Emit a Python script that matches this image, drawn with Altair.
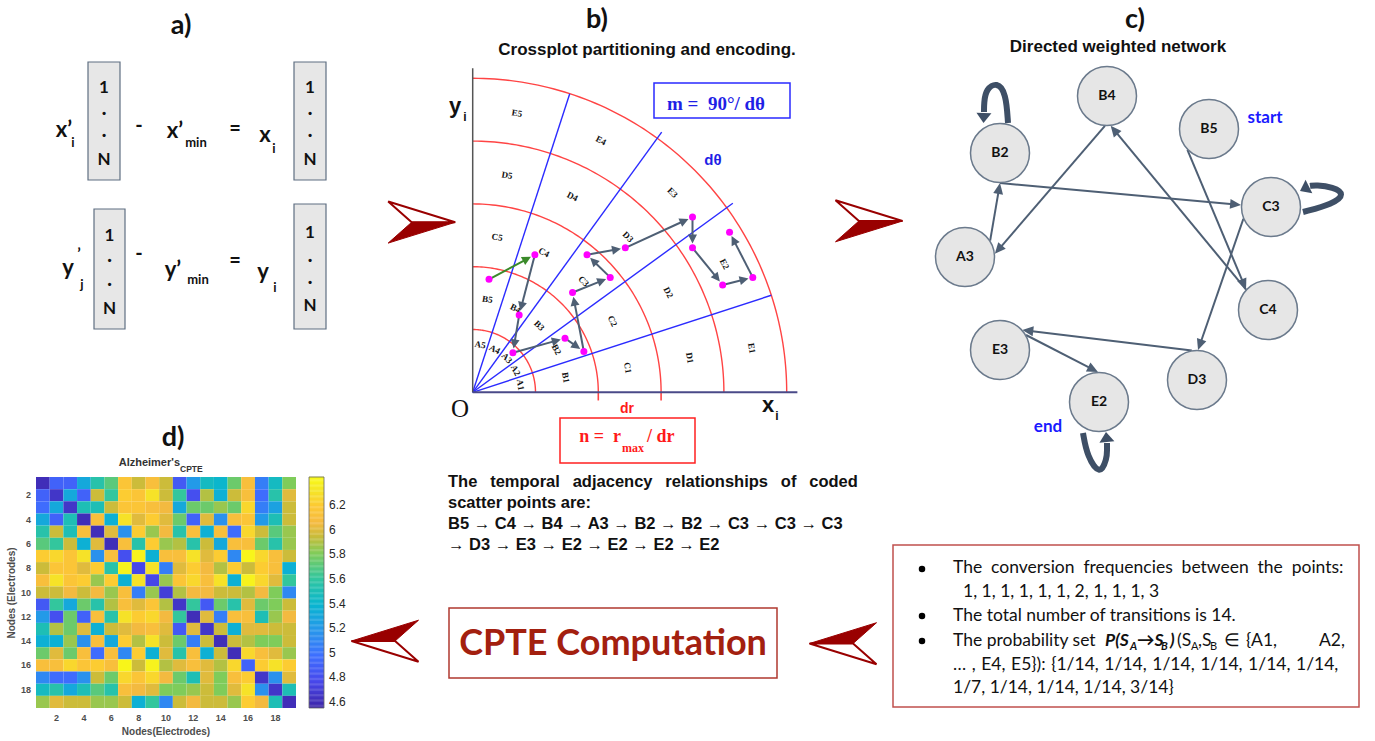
import math
from fractions import Fraction

import numpy as np
import pandas as pd
import altair as alt

W, H = 1375, 741
SANS, SERIF, HUMAN = "Liberation Sans", "Liberation Serif", "Lato"
INK = "#111111"
DARK_RED = "#990000"
SLATE = "#4e5f74"
LOOP = "#3e4f66"
BLUE_TXT = "#1a1aff"
RED_TXT = "#ff1a1a"

# ---------------------------------------------------------------- data
# (b) coded scatter points on the crossplot, in units of dr
SCATTER_X = [0.26, 0.99, 0.74, 0.64, 1.47, 1.77, 1.59, 2.19, 1.82, 2.43, 3.50, 3.50, 3.98, 4.46, 4.09]
SCATTER_Y = [1.80, 2.19, 1.23, 0.63, 0.86, 0.65, 1.59, 1.83, 2.19, 2.30, 2.79, 2.30, 1.71, 1.83, 2.55]
RING_LETTERS = ["A", "B", "C", "D", "E"]
N_SECTORS = 5

# (c) network nodes
NODES = ["B4", "B2", "B5", "C3", "A3", "C4", "E3", "E2", "D3"]

# (d) CPTE matrix, 19 electrodes
CPTE_ROWS = [
    [4.60, 4.90, 4.90, 5.30, 5.55, 5.70, 6.15, 5.95, 6.10, 5.95, 4.85, 5.20, 5.45, 5.40, 5.75, 6.10, 5.05, 5.45, 5.80],
    [4.90, 4.65, 5.30, 4.90, 5.95, 5.60, 6.20, 6.15, 6.30, 5.95, 5.60, 4.80, 5.90, 5.35, 5.95, 6.10, 4.95, 5.55, 6.00],
    [4.95, 5.30, 4.65, 5.50, 5.50, 5.95, 6.15, 6.15, 6.10, 6.05, 5.30, 5.75, 5.75, 5.85, 5.75, 6.25, 5.05, 5.25, 5.95],
    [5.30, 4.90, 5.50, 4.60, 6.10, 5.35, 6.30, 6.00, 6.20, 6.00, 5.75, 4.90, 6.00, 5.15, 6.10, 6.15, 5.20, 5.50, 5.95],
    [5.55, 5.95, 5.50, 6.10, 4.60, 6.00, 5.15, 6.20, 5.85, 6.05, 5.55, 6.10, 5.35, 6.10, 4.95, 6.25, 5.95, 5.70, 5.85],
    [5.70, 5.60, 5.95, 5.35, 6.00, 4.60, 6.10, 5.55, 6.20, 5.85, 5.90, 5.55, 5.95, 5.30, 6.10, 6.10, 5.75, 5.55, 5.85],
    [6.20, 6.25, 6.15, 6.30, 5.15, 6.10, 4.80, 6.38, 5.35, 6.10, 6.10, 6.30, 6.00, 6.20, 5.10, 6.40, 6.25, 6.10, 5.95],
    [5.95, 6.15, 6.15, 6.00, 6.20, 5.55, 6.38, 4.75, 6.30, 5.05, 6.00, 6.20, 6.05, 5.90, 6.20, 5.95, 6.20, 6.10, 5.35],
    [6.10, 6.30, 6.15, 6.20, 5.85, 6.20, 5.35, 6.30, 4.75, 5.85, 6.15, 6.25, 6.10, 6.30, 5.35, 6.38, 6.25, 6.00, 5.60],
    [5.95, 5.95, 6.05, 5.95, 6.05, 5.85, 6.10, 5.05, 5.85, 4.70, 5.90, 6.05, 6.05, 5.95, 5.95, 5.90, 6.05, 5.80, 5.10],
    [4.85, 5.60, 5.30, 5.75, 5.55, 5.90, 6.10, 6.00, 6.15, 5.90, 4.65, 5.60, 4.85, 5.75, 5.55, 6.00, 5.75, 5.80, 5.95],
    [5.20, 4.80, 5.75, 4.90, 6.10, 5.55, 6.30, 6.20, 6.25, 6.05, 5.60, 4.60, 6.00, 5.05, 6.10, 6.10, 5.50, 5.85, 6.05],
    [5.50, 5.90, 5.75, 6.00, 5.35, 5.95, 6.00, 6.05, 6.10, 6.00, 4.85, 6.00, 4.65, 5.95, 5.35, 6.00, 6.00, 5.95, 5.95],
    [5.35, 5.35, 5.85, 5.15, 6.10, 5.30, 6.20, 5.90, 6.30, 5.95, 5.75, 5.05, 5.95, 4.60, 5.95, 5.90, 5.80, 5.80, 5.95],
    [5.75, 6.00, 5.75, 6.10, 4.95, 6.10, 5.10, 6.20, 5.35, 6.00, 5.55, 6.10, 5.35, 5.95, 4.60, 6.25, 6.10, 6.00, 5.85],
    [6.10, 6.10, 6.25, 6.15, 6.20, 6.10, 6.40, 5.95, 6.38, 5.90, 6.00, 6.10, 6.00, 5.90, 6.25, 4.90, 6.20, 6.30, 6.20],
    [5.10, 4.95, 4.95, 5.15, 5.95, 5.75, 6.25, 6.15, 6.25, 6.05, 5.75, 5.50, 6.00, 5.80, 6.10, 6.20, 4.65, 5.15, 6.00],
    [5.45, 5.55, 5.30, 5.50, 5.70, 5.55, 6.10, 6.05, 6.00, 5.80, 5.80, 5.85, 5.95, 5.80, 6.00, 6.30, 5.15, 4.65, 5.50],
    [5.85, 6.00, 5.95, 5.95, 5.85, 5.85, 5.95, 5.35, 5.60, 5.10, 5.95, 6.05, 5.95, 5.95, 5.85, 6.20, 6.05, 5.50, 4.60],
]
NODE_TICKS = [2, 4, 6, 8, 10, 12, 14, 16, 18]
CBAR_TICKS = [4.6, 4.8, 5.0, 5.2, 5.4, 5.6, 5.8, 6.0, 6.2]
CBAR_LIMITS = [4.55, 6.43]

# parula-like colour ramp
PARULA_STOPS = [0.0, 0.111, 0.222, 0.333, 0.444, 0.556, 0.667, 0.74, 0.80, 0.87, 0.94, 1.0]
PARULA_COLORS = ["#3e26a8", "#4747eb", "#3e6fff", "#2796eb", "#08b5d0", "#31c69f",
                 "#81cc59", "#c9bc3a", "#f5ba40", "#fdc934", "#f5e626", "#f9fb15"]


# ---------------------------------------------------------------- derived
def encode_point(x, y):
    r = math.hypot(x, y)
    th = math.degrees(math.atan2(y, x))
    ring = min(int(r), len(RING_LETTERS) - 1)
    sec = min(int(th // (90 / N_SECTORS)), N_SECTORS - 1) + 1
    return f"{RING_LETTERS[ring]}{sec}"


CODES = [encode_point(x, y) for x, y in zip(SCATTER_X, SCATTER_Y)]
TRANSITIONS = {}
for pair in zip(CODES[:-1], CODES[1:]):
    TRANSITIONS[pair] = TRANSITIONS.get(pair, 0) + 1
TOTAL = sum(TRANSITIONS.values())
FREQS = list(TRANSITIONS.values())
PROBS = [str(Fraction(c, TOTAL)) for c in FREQS]


# ---------------------------------------------------------------- helpers
def pxs():
    return alt.Scale(domain=[0, W], range=[0, W], nice=False, zero=False)


def pys():
    return alt.Scale(domain=[0, H], range=[0, H], nice=False, zero=False)


def pxy(xf="x", yf="y"):
    return dict(x=alt.X(f"{xf}:Q", scale=pxs(), axis=None),
                y=alt.Y(f"{yf}:Q", scale=pys(), axis=None))


def texts(rows, size, color=INK, font=SANS, weight="bold", align="center",
          baseline="middle", italic=False, angle=None):
    df = pd.DataFrame(rows, columns=["t", "x", "y"])
    mk = dict(fontSize=size, color=color, font=font, fontWeight=weight,
              align=align, baseline=baseline)
    if italic:
        mk["fontStyle"] = "italic"
    if angle is not None:
        mk["angle"] = angle
    return alt.Chart(df).mark_text(**mk).encode(**pxy(), text="t:N")


def rects(rows, fill, stroke, sw, fill_opacity=1.0):
    df = pd.DataFrame(rows, columns=["x0", "x1", "y0", "y1"])
    return alt.Chart(df).mark_rect(fill=fill, stroke=stroke, strokeWidth=sw,
                                   fillOpacity=fill_opacity).encode(
        **pxy("x0", "y0"), x2="x1:Q", y2="y1:Q")


def segs(rows, color, width, scale_x=None, scale_y=None, cap="butt"):
    df = pd.DataFrame(rows, columns=["x", "y", "x2", "y2"])
    sx = scale_x or pxs()
    sy = scale_y or pys()
    return alt.Chart(df).mark_rule(color=color, strokeWidth=width, strokeCap=cap).encode(
        x=alt.X("x:Q", scale=sx, axis=None), y=alt.Y("y:Q", scale=sy, axis=None),
        x2="x2:Q", y2="y2:Q")


HEAD = "M0,0 L-0.5,1 L0.5,1 Z"
HEAD_WIDE = "M0,0 L-0.75,1 L0.75,1 Z"


def heads(rows, color, length, shape=HEAD, scale_x=None, scale_y=None):
    df = pd.DataFrame(rows, columns=["x", "y", "a"])
    sx = scale_x or pxs()
    sy = scale_y or pys()
    return alt.Chart(df).mark_point(shape=shape, filled=True, color=color, opacity=1,
                                    size=(2 * length) ** 2, strokeWidth=0).encode(
        x=alt.X("x:Q", scale=sx, axis=None), y=alt.Y("y:Q", scale=sy, axis=None),
        angle=alt.Angle("a:Q", scale=None))


def screen_angle(dx, dy_screen):
    return math.degrees(math.atan2(dx, -dy_screen)) % 360


layers = []

# ================================================================ (a)
VECTOR_ENTRIES = ["1", "·", "·", "N"]
A_BOXES = [(88, 120, 62, 180), (294, 326, 62, 180), (94, 125, 209, 329), (294, 326, 204, 329)]
A_ENTRY_Y = [[88, 114, 136, 160], [88, 114, 136, 160], [236, 261, 285, 309], [233, 261, 283, 306]]
layers.append(rects(A_BOXES, "#e7e7e7", "#5f6f82", 1.2))
entries = []
for (l, r, t, b), ys in zip(A_BOXES, A_ENTRY_Y):
    for txt, yy in zip(VECTOR_ENTRIES, ys):
        entries.append((txt, (l + r) / 2, yy))
layers.append(texts(entries, 17, font=HUMAN))
layers.append(texts([("x’", 64, 130), ("x’", 175, 131), ("x", 265, 135),
                     ("y", 68, 268), ("y’", 173, 270), ("y", 263, 272)], 22, font=HUMAN))
layers.append(texts([("i", 73, 143), ("min", 196, 143), ("i", 274, 149),
                     ("j", 82, 285), ("min", 198, 280), ("i", 275, 288)], 13, font=HUMAN))
layers.append(texts([("’", 79, 254)], 16, font=HUMAN))
layers.append(texts([("-", 139, 126), ("=", 235, 129), ("-", 139, 254), ("=", 235, 261)], 20, font=HUMAN))
layers.append(texts([("a)", 181, 26), ("b)", 597, 20), ("c)", 1135, 20), ("d)", 173, 438)], 27, font=HUMAN))

# ================================================================ chevrons between panels
CHEV_OPEN = "M1,0 L-1,-0.62 L-0.3,0 Z"
CHEV_FILL = "M1,0 L-0.3,0 L-1,0.62 Z"
chev = pd.DataFrame([(421.7, 222.3, 0), (869.0, 221.0, 0), (385.0, 641.0, 180), (843.0, 643.5, 180)],
                    columns=["x", "y", "a"])
layers.append(alt.Chart(chev).mark_point(shape=CHEV_OPEN, filled=True, fill="white", stroke=DARK_RED,
                                         strokeWidth=2, opacity=1, size=67 ** 2).encode(
    **pxy(), angle=alt.Angle("a:Q", scale=None)))
layers.append(alt.Chart(chev).mark_point(shape=CHEV_FILL, filled=True, fill=DARK_RED, stroke=DARK_RED,
                                         strokeWidth=1, opacity=1, size=67 ** 2).encode(
    **pxy(), angle=alt.Angle("a:Q", scale=None)))

# ================================================================ (b) crossplot
ORIGIN = (472.7, 392.3)
DR_PX = 62.8
CPX = alt.Scale(domain=[0, 5], range=[ORIGIN[0], ORIGIN[0] + 5 * DR_PX], nice=False, zero=False)
CPY = alt.Scale(domain=[0, 5], range=[ORIGIN[1], ORIGIN[1] - 5 * DR_PX], nice=False, zero=False)


def cpxy(xf="x", yf="y"):
    return dict(x=alt.X(f"{xf}:Q", scale=CPX, axis=None), y=alt.Y(f"{yf}:Q", scale=CPY, axis=None))


layers.append(texts([("Crossplot partitioning and encoding.", 647, 50)], 17))
layers.append(rects([(654, 790, 83, 118)], "white", "#2a2aff", 1.5))
layers.append(texts([("m =\u00a0 90°/ dθ", 716, 104)], 19, color="#1f1fe6", font=SERIF))
layers.append(texts([("dθ", 713, 160)], 15, color="#1f1fe6"))

# arcs of constant radius
arc_rows = []
for k in range(1, 6):
    for i, deg in enumerate(range(0, 91)):
        t = math.radians(deg)
        arc_rows.append((k, i, k * math.cos(t), k * math.sin(t)))
arcs = pd.DataFrame(arc_rows, columns=["k", "i", "x", "y"])
layers.append(alt.Chart(arcs).mark_line(color="#ff4444", strokeWidth=1.4).encode(
    **cpxy(), detail="k:N", order="i:Q"))
layers.append(segs([(k, 0, k, -0.13) for k in (2, 3)], "#ff4444", 1.6, CPX, CPY))

# sector boundaries
ray_rows = []
for s in range(1, N_SECTORS):
    t = math.radians(s * 90 / N_SECTORS)
    length = 5.0 if s in (1, N_SECTORS - 1) else 5.12
    ray_rows.append((0, 0, length * math.cos(t), length * math.sin(t)))
layers.append(segs(ray_rows, "#2b2bff", 1.4, CPX, CPY))

# axes
layers.append(segs([(0, 0, 0, 5.16)], "#555555", 1.5, CPX, CPY))
layers.append(segs([(0, 0, 5.17, 0)], "#4a4a88", 2.0, CPX, CPY))

# sector codes
lab_rows = []
for ri, letter in enumerate(RING_LETTERS):
    rmid = 0.77 if ri == 0 else ri + 0.5
    for s in range(N_SECTORS):
        th = (s + 0.5) * 90 / N_SECTORS
        t = math.radians(th)
        lab_rows.append((f"{letter}{s + 1}", rmid * math.cos(t), rmid * math.sin(t), 90 - th))
labs = pd.DataFrame(lab_rows, columns=["t", "x", "y", "a"])
layers.append(alt.Chart(labs).mark_text(font=SERIF, fontSize=9, fontWeight="bold", color=INK,
                                        baseline="middle").encode(
    **cpxy(), text="t:N", angle=alt.Angle("a:Q", scale=None)))

# temporal trajectory
seg_rows, head_rows = [], []
for i in range(len(SCATTER_X) - 1):
    x0, y0, x1, y1 = SCATTER_X[i], SCATTER_Y[i], SCATTER_X[i + 1], SCATTER_Y[i + 1]
    L = math.hypot(x1 - x0, y1 - y0)
    ux, uy = (x1 - x0) / L, (y1 - y0) / L
    tx, ty = x1 - 0.07 * ux, y1 - 0.07 * uy
    ex, ey = tx - 0.1 * ux, ty - 0.1 * uy
    seg_rows.append((i, x0, y0, ex, ey))
    head_rows.append((i, tx, ty, screen_angle(ux, -uy)))
first = [r[1:] for r in seg_rows if r[0] == 0]
rest = [r[1:] for r in seg_rows if r[0] != 0]
layers.append(segs(first, "#3a8a2a", 2.0, CPX, CPY))
layers.append(segs(rest, SLATE, 2.0, CPX, CPY))
layers.append(heads([r[1:] for r in head_rows if r[0] == 0], "#3a8a2a", 9, scale_x=CPX, scale_y=CPY))
layers.append(heads([r[1:] for r in head_rows if r[0] != 0], SLATE, 9, scale_x=CPX, scale_y=CPY))
pts = pd.DataFrame({"x": SCATTER_X, "y": SCATTER_Y})
layers.append(alt.Chart(pts).mark_point(shape="circle", filled=True, color="#ff00ff", opacity=1,
                                        size=49).encode(**cpxy()))

# axis names
layers.append(texts([("y", 455, 106), ("x", 768, 405)], 22))
layers.append(texts([("i", 465, 117), ("i", 777, 416)], 12))
layers.append(texts([("O", 460, 409)], 25, font=SERIF, weight="normal"))
layers.append(texts([("dr", 627, 409)], 14, color=RED_TXT))

# n = r_max / dr
layers.append(rects([(560, 695, 418, 463)], "white", "#ff2020", 1.5))
layers.append(texts([("n =\u00a0 r", 621, 437)], 18, color=RED_TXT, font=SERIF, align="right"))
layers.append(texts([("max", 622, 448)], 12, color=RED_TXT, font=SERIF, align="left"))
layers.append(texts([("/ dr", 647, 437)], 18, color=RED_TXT, font=SERIF, align="left"))

# trajectory as text
GAP = " \u2002"
para = [
    (GAP.join("The temporal adjacency relationships of coded".split()), 448, 482),
    ("scatter points are:", 448, 503),
    (" → ".join(CODES[:9]), 448, 524),
    ("→ " + " → ".join(CODES[9:]), 448, 545),
]
layers.append(texts(para, 16.5, align="left"))

# ================================================================ (c) network
NODE_POS = {"B4": (1107, 96), "B2": (1000, 153), "B5": (1209, 129), "C3": (1271, 207),
            "A3": (965, 257), "C4": (1268, 310), "E3": (1000, 350), "E2": (1099, 402),
            "D3": (1197, 380)}
NODE_R = 29.5
PORTS = {("B5", "C4"): (136, 223), ("C4", "B4"): (223, 83), ("B4", "A3"): (94, 354),
         ("A3", "B2"): (327, 90), ("B2", "C3"): (90, 184), ("C3", "D3"): (157, 272),
         ("D3", "E3"): (260, 318), ("E3", "E2"): (330, 268)}
LOOP_PATHS = {
    "B2": [(8, -30), (6, -60), (-3, -71), (-14, -64), (-16, -50), (-16, -41)],
    "C3": [(32, 5), (62, -3), (74, -13), (62, -20), (45, -22), (39, -21)],
    "E2": [(-16, 31), (-12, 54), (1, 74), (8, 56), (8, 48), (8, 41)],
}
LOOP_TIPS = {"B2": (-16.5, -30), "C3": (29, -16), "E2": (7, 30)}

layers.append(texts([("Directed weighted network", 1118, 47)], 17))


def port(node, ang):
    cx, cy = NODE_POS[node]
    t = math.radians(ang)
    return cx + (NODE_R + 0.5) * math.cos(t), cy + (NODE_R + 0.5) * math.sin(t)


e_rows, eh_rows = [], []
for (a, b), cnt in TRANSITIONS.items():
    if a == b:
        continue
    sx_, sy_ = port(a, PORTS[(a, b)][0])
    tx_, ty_ = port(b, PORTS[(a, b)][1])
    L = math.hypot(tx_ - sx_, ty_ - sy_)
    ux, uy = (tx_ - sx_) / L, (ty_ - sy_) / L
    e_rows.append((sx_, sy_, tx_ - 8 * ux, ty_ - 8 * uy))
    eh_rows.append((tx_, ty_, screen_angle(ux, uy)))
layers.append(segs(e_rows, SLATE, 2.0))
layers.append(heads(eh_rows, SLATE, 11, shape="M0,0 L-0.45,1 L0.45,1 Z"))

loop_rows, lh_rows = [], []
for (a, b), cnt in TRANSITIONS.items():
    if a != b:
        continue
    cx, cy = NODE_POS[a]
    path = LOOP_PATHS[a]
    for i, (dx, dy) in enumerate(path):
        loop_rows.append((a, i, cx + dx, cy + dy))
    bx, by = path[-1]
    tx_, ty_ = LOOP_TIPS[a]
    lh_rows.append((cx + tx_, cy + ty_, screen_angle(tx_ - bx, ty_ - by)))
loops = pd.DataFrame(loop_rows, columns=["n", "i", "x", "y"])
layers.append(alt.Chart(loops).mark_line(color=LOOP, strokeWidth=6, interpolate="basis").encode(
    **pxy(), detail="n:N", order="i:Q"))
layers.append(heads(lh_rows, LOOP, 10, shape=HEAD_WIDE))

nodes = pd.DataFrame([(n, *NODE_POS[n]) for n in NODES], columns=["t", "x", "y"])
layers.append(alt.Chart(nodes).mark_point(shape="circle", filled=True, fill="#e6e6e6", stroke="#6b7a8c",
                                          strokeWidth=1.5, opacity=1, size=(2 * NODE_R) ** 2).encode(**pxy()))
layers.append(alt.Chart(nodes).mark_text(font=HUMAN, fontSize=14, fontWeight="bold", color=INK,
                                         baseline="middle").encode(**pxy(), text="t:N"))
layers.append(texts([("start", 1265, 118), ("end", 1048, 427)], 17, color=BLUE_TXT, font=HUMAN))

# ================================================================ summary box
layers.append(rects([(893, 1359, 545, 707)], "white", "#c0504d", 1.5))
bul = pd.DataFrame({"x": [922, 922, 922], "y": [569, 616, 641]})
layers.append(alt.Chart(bul).mark_point(shape="circle", filled=True, color="black", opacity=1,
                                        size=42).encode(**pxy()))
REG = dict(font=HUMAN, weight="normal")
FS, SUB = 17.5, 11
line1 = " \u2005".join("The conversion frequencies between the points:".split())
line5 = " \u200a".join(("… , E4, E5}): {" + ", ".join(PROBS[:6]) + ",").split())
line6 = ", ".join(PROBS[6:]) + "}"
layers.append(texts([(line1, 953, 568),
                     ("The total number of transitions is %d." % TOTAL, 953, 616),
                     ("The probability set", 953, 641),
                     (line5, 953, 665),
                     (line6, 953, 688)], FS, align="left", **REG))
layers.append(texts([(", ".join(str(f) for f in FREQS), 963, 592)], FS, align="left", **REG))
layers.append(texts([("A2,", 1345, 641)], FS, align="right", **REG))
layers.append(texts([("(S", 1177, 641), (",S", 1198, 641), ("∈", 1224, 641), ("{A1,", 1246, 641)],
                    FS, align="left", **REG))
layers.append(texts([("A", 1191, 647), ("B", 1210, 647)], SUB, align="left", **REG))
layers.append(texts([("P(S", 1105, 641), ("→S", 1137, 641), (")", 1170, 641)], FS, font=HUMAN,
                    italic=True, align="left"))
layers.append(texts([("A", 1130, 647), ("B", 1161, 647)], SUB, font=HUMAN, italic=True, align="left"))

# ================================================================ CPTE box
layers.append(rects([(449, 777, 608, 678)], "white", "#b0392f", 1.5))
layers.append(texts([("CPTE Computation", 613, 644)], 36, color="#a3200f", font=HUMAN))

# ================================================================ (d) heat map
HM_X = alt.Scale(domain=[0.5, 19.5], range=[36, 296], nice=False, zero=False)
HM_Y = alt.Scale(domain=[0.5, 19.5], range=[477, 708], nice=False, zero=False)
CB_Y = alt.Scale(domain=CBAR_LIMITS, range=[708, 477], nice=False, zero=False)
lo, hi = CBAR_LIMITS
PARULA = alt.Scale(domain=[lo + s * (hi - lo) for s in PARULA_STOPS], range=PARULA_COLORS,
                   interpolate="rgb", clamp=True)

hm = pd.DataFrame([(r + 1, c + 1, v) for r, row in enumerate(CPTE_ROWS) for c, v in enumerate(row)],
                  columns=["row", "col", "v"])
layers.append(alt.Chart(hm).transform_calculate(
    c0="datum.col - 0.5", c1="datum.col + 0.5", r0="datum.row - 0.5", r1="datum.row + 0.5"
).mark_rect(strokeWidth=0).encode(
    x=alt.X("c0:Q", scale=HM_X, axis=None), x2="c1:Q",
    y=alt.Y("r0:Q", scale=HM_Y, axis=None), y2="r1:Q",
    color=alt.Color("v:Q", scale=PARULA, legend=None)))

ticks = pd.DataFrame({"n": NODE_TICKS, "t": [str(n) for n in NODE_TICKS],
                      "px": 31, "py": 718})
layers.append(alt.Chart(ticks).mark_text(font=SANS, fontSize=9, fontWeight="bold", color="#4d4d4d",
                                         align="right", baseline="middle").encode(
    x=alt.X("px:Q", scale=pxs(), axis=None), y=alt.Y("n:Q", scale=HM_Y, axis=None), text="t:N"))
layers.append(alt.Chart(ticks).mark_text(font=SANS, fontSize=9, fontWeight="bold", color="#4d4d4d",
                                         baseline="middle").encode(
    x=alt.X("n:Q", scale=HM_X, axis=None), y=alt.Y("py:Q", scale=pys(), axis=None), text="t:N"))
layers.append(texts([("Nodes(Electrodes)", 166, 732)], 10, color="#4d4d4d"))
layers.append(texts([("Nodes (Electrodes)", 12, 593)], 10, color="#4d4d4d", angle=270))
layers.append(texts([("Alzheimer's", 180, 463)], 11, color="#333333", align="right"))
layers.append(texts([("CPTE", 180, 469)], 8.5, color="#333333", align="left"))

# colour bar
cb_vals = np.round(np.arange(lo, hi, 0.01), 3)
cb = pd.DataFrame({"v": cb_vals, "v1": cb_vals + 0.012, "x0": 309, "x1": 324})
layers.append(alt.Chart(cb).mark_rect(strokeWidth=0).encode(
    x=alt.X("x0:Q", scale=pxs(), axis=None), x2="x1:Q",
    y=alt.Y("v:Q", scale=CB_Y, axis=None), y2="v1:Q",
    color=alt.Color("v:Q", scale=PARULA, legend=None)))
layers.append(rects([(309, 324, 477, 708)], "white", "#666666", 0.8, fill_opacity=0))
cbt = pd.DataFrame({"v": CBAR_TICKS, "t": ["%g" % v for v in CBAR_TICKS], "px": 329})
layers.append(alt.Chart(cbt).mark_text(font=SANS, fontSize=12, color="#262626", align="left",
                                       baseline="middle").encode(
    x=alt.X("px:Q", scale=pxs(), axis=None), y=alt.Y("v:Q", scale=CB_Y, axis=None), text="t:N"))

# ---------------------------------------------------------------- assemble
chart = alt.layer(*layers).resolve_scale(
    x="independent", y="independent", color="independent"
).properties(
    width=W, height=H, autosize=alt.AutoSizeParams(type="none"), padding=0, background="white"
).configure_view(stroke=None)

chart.save("out.html", embed_options={"renderer": "svg", "actions": False})
